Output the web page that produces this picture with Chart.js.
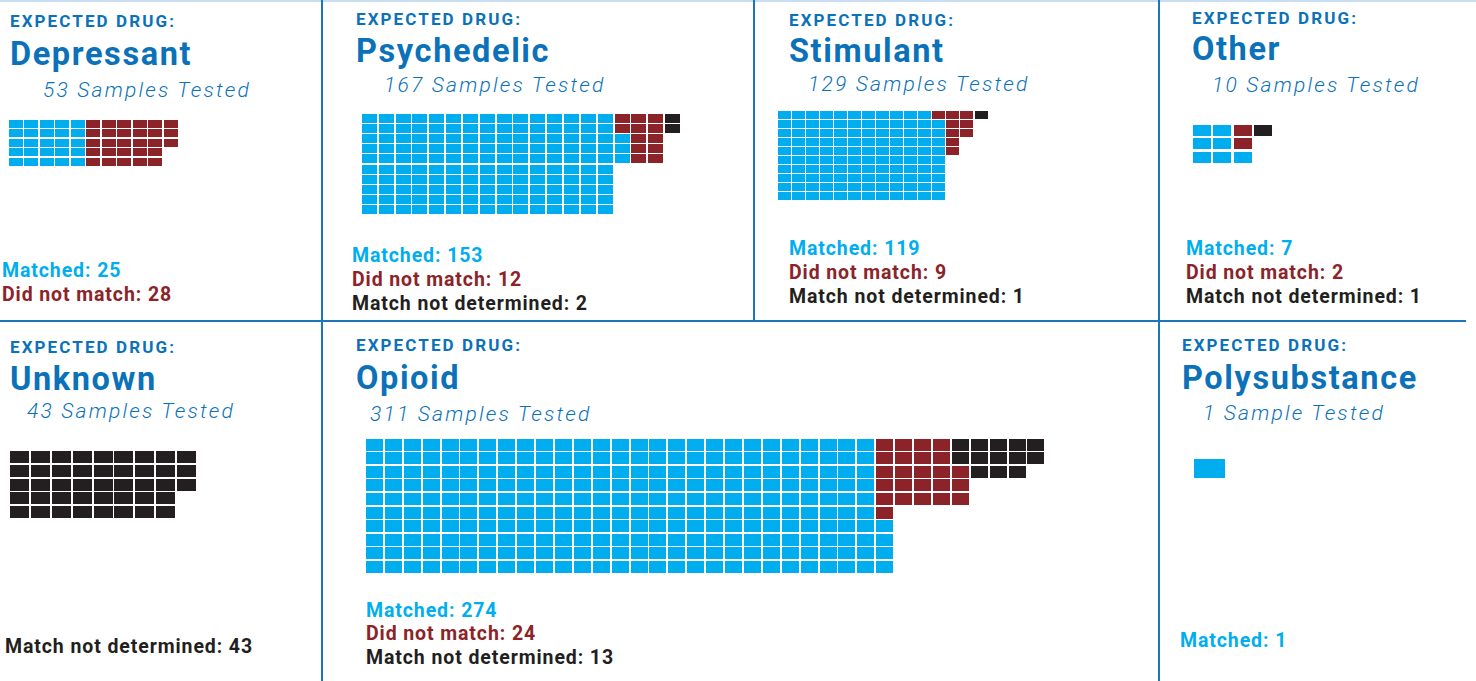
<!DOCTYPE html>
<html>
<head>
<meta charset="utf-8">
<script src="https://cdn.jsdelivr.net/npm/chart.js@4.4.1/dist/chart.umd.min.js"></script>
<style>
  html, body { margin: 0; padding: 0; background: #fff; }
  #page { position: relative; width: 1476px; height: 681px; overflow: hidden; font-family: Roboto, sans-serif; }
  .txt { position: absolute; white-space: nowrap; line-height: 1; }
  .rule { position: absolute; background: #1b76bc; }
  canvas { position: absolute; }
</style>
</head>
<body>
<div id="page"></div>
<script>
// data
const drugNames = ['Depressant', 'Psychedelic', 'Stimulant', 'Other', 'Unknown', 'Opioid', 'Polysubstance'];
const matchedCounts = [25, 153, 119, 7, 0, 274, 1];
const notMatchedCounts = [28, 12, 9, 2, 0, 24, 0];
const undeterminedCounts = [0, 2, 1, 1, 43, 13, 0];
const categoryLabels = ['Matched', 'Did not match', 'Match not determined'];
const categoryColors = ['#00aeef', '#8b2328', '#231f20'];

// layout of each panel: text anchors, grid placement and how the waffle fills
const panels = [
  { headX: 10, b1: 27, b2: 65, subX: 43, b3: 98, labX: 2, labB: 277, labStep: 24,
    grid: { left: 8, top: 119, px: 15.5, py: 9.5, cw: 14, ch: 8, rows: 5 },
    fill: [{ h: 5 }, { h: 5 }, { h: 5 }] },
  { headX: 356, b1: 25, b2: 62, subX: 384, b3: 93, labX: 352, labB: 262, labStep: 24,
    grid: { left: 361, top: 112.7, px: 16.84, py: 10.2, cw: 15, ch: 9, rows: 10 },
    fill: [{ h: 10, remBottom: 5 }, { h: 5 }, { h: 5 }] },
  { headX: 789, b1: 26, b2: 62, subX: 808, b3: 92, labX: 789, labB: 255, labStep: 24,
    grid: { left: 777, top: 110, px: 14.07, py: 9, cw: 13, ch: 8, rows: 10 },
    fill: [{ h: 10, remBottom: 10 }, { h: 5 }, { h: 5 }] },
  { headX: 1192, b1: 24, b2: 60, subX: 1212, b3: 93, labX: 1186, labB: 255, labStep: 24,
    grid: { left: 1192, top: 124, px: 20.25, py: 13.3, cw: 18, ch: 11, rows: 3 },
    fill: [{ h: 3, remBottom: 3 }, { h: 3 }, { h: 3 }] },
  { headX: 10, b1: 353, b2: 390, subX: 27, b3: 419, labX: 5, labB: 653, labStep: 24,
    grid: { left: 9, top: 450, px: 20.9, py: 13.8, cw: 19, ch: 12, rows: 5 },
    fill: [{ h: 5 }, { h: 5 }, { h: 5 }] },
  { headX: 356, b1: 351, b2: 389, subX: 370, b3: 422, labX: 366, labB: 617, labStep: 23.5,
    grid: { left: 365, top: 438, px: 18.9, py: 13.55, cw: 17, ch: 12, rows: 10 },
    fill: [{ h: 10, remBottom: 10 }, { h: 5, remBottom: 5 }, { h: 3 }] },
  { headX: 1182, b1: 351, b2: 389, subX: 1203, b3: 421, labX: 1180, labB: 647, labStep: 24,
    grid: { left: 1194, top: 459, px: 31, py: 19, cw: 31, ch: 19, rows: 1 },
    fill: [{ h: 1 }, { h: 1 }, { h: 1 }] }
];

const page = document.getElementById('page');
const BASE = 0.842; // baseline offset of Roboto at line-height 1

function addText(text, x, baseline, size, opts) {
  const d = document.createElement('div');
  d.className = 'txt';
  d.textContent = text;
  d.style.left = x + 'px';
  d.style.top = (baseline - BASE * size) + 'px';
  d.style.fontSize = size + 'px';
  d.style.fontWeight = opts.weight || 700;
  d.style.color = opts.color;
  if (opts.italic) d.style.fontStyle = 'italic';
  if (opts.spacing) d.style.letterSpacing = opts.spacing + 'px';
  page.appendChild(d);
}

function addRule(x, y, w, h, color) {
  const d = document.createElement('div');
  d.className = 'rule';
  d.style.left = x + 'px';
  d.style.top = y + 'px';
  d.style.width = w + 'px';
  d.style.height = h + 'px';
  if (color) d.style.background = color;
  page.appendChild(d);
}

// column by column, top to bottom; a short last column can sit at the bottom
// so the next category fills the free space above it
function placeCells(counts, fill) {
  const cells = [[], [], []];
  let col = -1, gap = 0;
  counts.forEach(function (count, k) {
    let n = count;
    if (!n) return;
    const f = fill[k];
    while (gap > 0 && n > 0) {
      gap--;
      cells[k].push({ x: col + 0.5, y: gap + 0.5 });
      n--;
    }
    while (n >= f.h) {
      col++;
      for (let r = 0; r < f.h; r++) cells[k].push({ x: col + 0.5, y: r + 0.5 });
      n -= f.h;
      gap = 0;
    }
    if (n > 0) {
      col++;
      if (f.remBottom) {
        for (let r = f.remBottom - n; r < f.remBottom; r++) cells[k].push({ x: col + 0.5, y: r + 0.5 });
        gap = f.remBottom - n;
      } else {
        for (let r = 0; r < n; r++) cells[k].push({ x: col + 0.5, y: r + 0.5 });
        gap = 0;
      }
    }
  });
  return { cells: cells, cols: col + 1 };
}

function cellImage(color, w, h) {
  const c = document.createElement('canvas');
  c.width = w;
  c.height = h;
  const ctx = c.getContext('2d');
  ctx.fillStyle = color;
  ctx.fillRect(0, 0, w, h);
  return c;
}

function renderWaffle(i) {
  const p = panels[i];
  const g = p.grid;
  const counts = [matchedCounts[i], notMatchedCounts[i], undeterminedCounts[i]];
  const placed = placeCells(counts, p.fill);
  const w = Math.ceil(placed.cols * g.px) + 2;
  const h = Math.ceil(g.rows * g.py) + 2;
  const canvas = document.createElement('canvas');
  canvas.width = w;
  canvas.height = h;
  canvas.style.width = w + 'px';
  canvas.style.height = h + 'px';
  canvas.style.left = g.left + 'px';
  canvas.style.top = g.top + 'px';
  page.appendChild(canvas);

  new Chart(canvas, {
    type: 'scatter',
    data: {
      datasets: placed.cells.map(function (data, k) {
        return {
          label: categoryLabels[k],
          data: data,
          pointStyle: cellImage(categoryColors[k], g.cw, g.ch),
          backgroundColor: categoryColors[k],
          clip: false
        };
      })
    },
    options: {
      responsive: false,
      animation: false,
      events: [],
      layout: { padding: 0, autoPadding: false },
      plugins: {
        legend: { display: false },
        tooltip: { enabled: false }
      },
      scales: {
        x: { type: 'linear', min: 0, max: w / g.px, display: false },
        y: { type: 'linear', min: 0, max: h / g.py, reverse: true, display: false }
      }
    }
  });
}

function renderPanel(i) {
  const p = panels[i];
  const counts = [matchedCounts[i], notMatchedCounts[i], undeterminedCounts[i]];
  const total = counts[0] + counts[1] + counts[2];
  addText('EXPECTED DRUG:', p.headX, p.b1, 17, { color: '#0b72b9', spacing: 2.1 });
  addText(drugNames[i], p.headX, p.b2, 32.5, { color: '#0b72b9', spacing: 1.6 });
  addText(total + (total === 1 ? ' Sample Tested' : ' Samples Tested'), p.subX, p.b3, 21,
    { color: '#0b72b9', italic: true, weight: 300, spacing: 2.2 });
  let line = 0;
  counts.forEach(function (n, k) {
    if (!n) return;
    addText(categoryLabels[k] + ': ' + n, p.labX, p.labB + line * p.labStep, 19.5,
      { color: categoryColors[k], spacing: 0.9 });
    line++;
  });
  renderWaffle(i);
}

// panel rules
addRule(0, 0, 1476, 2, '#c9def0');
addRule(321, 0, 2, 681);
addRule(753, 0, 2, 321);
addRule(1158, 0, 2, 681);
addRule(0, 320, 1466, 2);

for (let i = 0; i < drugNames.length; i++) renderPanel(i);
</script>
</body>
</html>
